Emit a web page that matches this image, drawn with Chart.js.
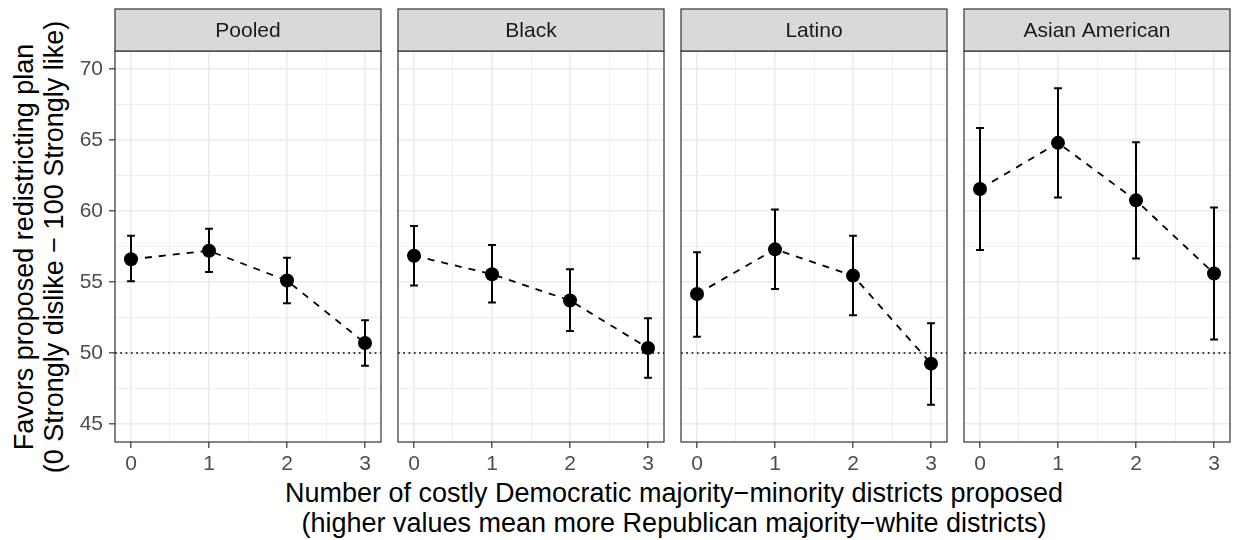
<!DOCTYPE html>
<html>
<head>
<meta charset="utf-8">
<title>Favors proposed redistricting plan</title>
<script src="https://cdn.jsdelivr.net/npm/chart.js@4.4.1/dist/chart.umd.min.js"></script>
<style>
  html, body { margin: 0; padding: 0; background: #fff; }
  #wrap { position: relative; width: 1236px; height: 540px; overflow: hidden; font-family: 'Liberation Sans', Arial, sans-serif; }
  #wrap canvas { position: absolute; top: 0; }
  .ytitle { position: absolute; width: 520px; height: 60px; left: -221px; top: 217px; transform: rotate(-90deg);
            text-align: center; font-size: 27px; line-height: 30px; color: #000; white-space: nowrap; }
  .xtitle { position: absolute; left: 115px; width: 1118px; top: 478px; text-align: center;
            font-size: 27px; line-height: 30px; color: #000; white-space: nowrap; }
</style>
</head>
<body>
<div id="wrap">
  <div class="ytitle">Favors proposed redistricting plan<br>(0 Strongly dislike − 100 Strongly like)</div>
  <div class="xtitle">Number of costly Democratic majority−minority districts proposed<br>(higher values mean more Republican majority−white districts)</div>
</div>
<script>
// ==========================================
// 1. DATOS
// ==========================================

const facetLabels = ['Pooled', 'Black', 'Latino', 'Asian American'];
const xValues = [0, 1, 2, 3];

const xMajor = [0, 1, 2, 3];
const xMinor = [0.5, 1.5, 2.5];
const yMajor = [45, 50, 55, 60, 65, 70];
const yMinor = [47.5, 52.5, 57.5, 62.5, 67.5];
const refLine = 50;

const estPooled = [56.6, 57.2, 55.1, 50.7];
const loPooled  = [55.05, 55.7, 53.5, 49.1];
const hiPooled  = [58.25, 58.75, 56.7, 52.3];

const estBlack = [56.85, 55.55, 53.7, 50.35];
const loBlack  = [54.75, 53.55, 51.55, 48.25];
const hiBlack  = [58.95, 57.6, 55.9, 52.45];

const estLatino = [54.15, 57.3, 55.45, 49.25];
const loLatino  = [51.15, 54.5, 52.65, 46.35];
const hiLatino  = [57.1, 60.1, 58.25, 52.1];

const estAsian = [61.55, 64.8, 60.75, 55.6];
const loAsian  = [57.25, 60.95, 56.65, 50.95];
const hiAsian  = [65.85, 68.65, 64.85, 60.25];

const estimates = [estPooled, estBlack, estLatino, estAsian];
const lowers = [loPooled, loBlack, loLatino, loAsian];
const uppers = [hiPooled, hiBlack, hiLatino, hiAsian];

// limites de los ejes (como ggplot con expansion)
const xMin = -0.205, xMax = 3.205;
const yMin = 43.73, yMax = 71.27;
const capHalf = 0.05;

// ==========================================
// 2. LAYOUT
// ==========================================

const panelLeft0 = 115;
const panelStep = 283;
const panelWidth = 269;
const axisW = 50;
const padRight = 4;
const stripTop = 9;
const FONT = "'Liberation Sans', Arial, sans-serif";

Chart.defaults.font.family = FONT;

const isMajorX = v => xMajor.includes(v);
const isMajorY = v => yMajor.includes(v);

// tira gris con el nombre del panel + borde del panel
const stripPlugin = {
    id: 'strip',
    afterDatasetsDraw(chart, args, opts) {
        const a = chart.chartArea;
        const ctx = chart.ctx;
        ctx.save();
        ctx.lineWidth = 1.2;
        ctx.strokeStyle = '#333333';
        ctx.strokeRect(a.left, a.top, a.right - a.left, a.bottom - a.top);
        ctx.restore();
    },
    afterDraw(chart, args, opts) {
        const a = chart.chartArea;
        const ctx = chart.ctx;
        ctx.save();
        ctx.fillStyle = '#d9d9d9';
        ctx.fillRect(a.left, stripTop, a.right - a.left, a.top - stripTop);
        ctx.lineWidth = 1.2;
        ctx.strokeStyle = '#333333';
        ctx.strokeRect(a.left, stripTop, a.right - a.left, a.top - stripTop);
        ctx.fillStyle = '#1a1a1a';
        ctx.font = '21px ' + FONT;
        ctx.textAlign = 'center';
        ctx.textBaseline = 'middle';
        ctx.fillText(opts.text, (a.left + a.right) / 2, (stripTop + a.top) / 2 + 1);
        ctx.restore();
    }
};

function errorBarData(lo, hi) {
    const out = [];
    xValues.forEach((x, i) => {
        out.push({x: x - capHalf, y: hi[i]}, {x: x + capHalf, y: hi[i]}, {x: x, y: null});
        out.push({x: x, y: hi[i]}, {x: x, y: lo[i]}, {x: x, y: null});
        out.push({x: x - capHalf, y: lo[i]}, {x: x + capHalf, y: lo[i]}, {x: x, y: null});
    });
    return out;
}

function renderPanel(i) {
    const wrap = document.getElementById('wrap');
    const canvas = document.createElement('canvas');
    const w = axisW + panelWidth + padRight;
    canvas.width = w;
    canvas.height = 540;
    canvas.style.left = (panelLeft0 + i * panelStep - axisW) + 'px';
    canvas.style.width = w + 'px';
    canvas.style.height = '540px';
    wrap.appendChild(canvas);

    const first = i === 0;

    new Chart(canvas, {
        type: 'line',
        data: {
            datasets: [{
                // puntos
                data: xValues.map((x, k) => ({x: x, y: estimates[i][k]})),
                showLine: false,
                pointRadius: 7,
                pointBackgroundColor: '#000',
                pointBorderWidth: 0
            }, {
                // barras de error
                data: errorBarData(lowers[i], uppers[i]),
                borderColor: '#000',
                borderWidth: 2,
                pointRadius: 0,
                spanGaps: false
            }, {
                // linea discontinua
                data: xValues.map((x, k) => ({x: x, y: estimates[i][k]})),
                borderColor: '#000',
                borderWidth: 1.8,
                borderDash: [7, 7],
                pointRadius: 0
            }, {
                // referencia en 50
                data: [{x: xMin, y: refLine}, {x: xMax, y: refLine}],
                borderColor: '#000',
                borderWidth: 1.7,
                borderDash: [1.7, 3.6],
                pointRadius: 0
            }]
        },
        options: {
            responsive: false,
            animation: false,
            devicePixelRatio: 1,
            events: [],
            layout: { padding: { left: 0, right: padRight, top: 51, bottom: 58 } },
            plugins: {
                legend: { display: false },
                tooltip: { enabled: false },
                strip: { text: facetLabels[i] }
            },
            scales: {
                x: {
                    type: 'linear',
                    min: xMin,
                    max: xMax,
                    afterBuildTicks: s => { s.ticks = xMajor.concat(xMinor).sort((a, b) => a - b).map(v => ({value: v})); },
                    afterFit: s => { s.height = 40; },
                    border: { display: false },
                    grid: {
                        color: '#ebebeb',
                        lineWidth: c => isMajorX(c.tick.value) ? 1.6 : 0.8,
                        tickColor: c => isMajorX(c.tick.value) ? '#333333' : 'rgba(0,0,0,0)',
                        tickWidth: 1.2,
                        tickLength: 6
                    },
                    ticks: {
                        color: '#4d4d4d',
                        font: { size: 21 },
                        padding: 4,
                        maxRotation: 0,
                        autoSkip: false,
                        callback: v => isMajorX(v) ? String(v) : ''
                    }
                },
                y: {
                    type: 'linear',
                    min: yMin,
                    max: yMax,
                    afterBuildTicks: s => { s.ticks = yMajor.concat(yMinor).sort((a, b) => a - b).map(v => ({value: v})); },
                    afterFit: s => { s.width = axisW; },
                    border: { display: false },
                    grid: {
                        color: '#ebebeb',
                        lineWidth: c => isMajorY(c.tick.value) ? 1.6 : 0.8,
                        tickColor: c => (first && isMajorY(c.tick.value)) ? '#333333' : 'rgba(0,0,0,0)',
                        tickWidth: 1.2,
                        tickLength: 6
                    },
                    ticks: {
                        display: first,
                        color: '#4d4d4d',
                        font: { size: 21 },
                        padding: 6,
                        autoSkip: false,
                        callback: v => isMajorY(v) ? String(v) : ''
                    }
                }
            }
        },
        plugins: [stripPlugin]
    });
}

// ==========================================
// 3. INICIALIZAR
// ==========================================

facetLabels.forEach((_, i) => renderPanel(i));
</script>
</body>
</html>
